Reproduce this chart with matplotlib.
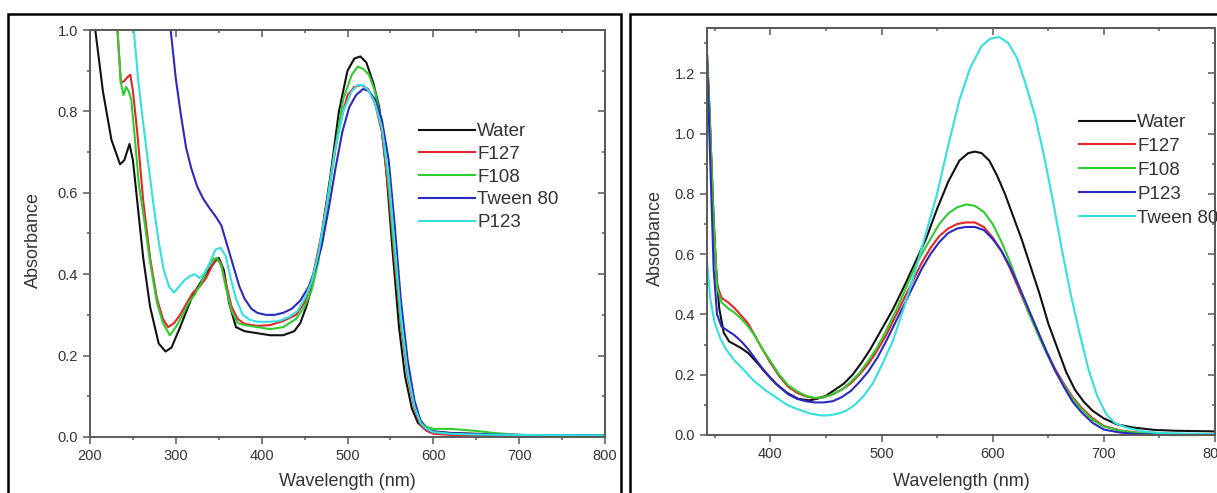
import matplotlib
matplotlib.use("Agg")
import matplotlib.pyplot as plt
from matplotlib.patches import Rectangle
from matplotlib.ticker import MultipleLocator

plt.rcParams['font.family'] = ['Liberation Sans', 'DejaVu Sans']

# ---------------- Left panel data ----------------
L_water_wl = [200, 205, 215, 225, 235, 240, 246, 250, 255, 262, 270, 280, 288, 295, 305, 320, 335, 345, 350,
              356, 362, 370, 380, 395, 410, 425, 438, 445, 452, 460, 470, 480, 490, 500, 508, 515, 522, 530,
              537, 545, 552, 560, 567, 575, 582, 590, 600, 620, 650, 700, 750, 800]
L_water_a = [1.15, 1.02, 0.85, 0.73, 0.67, 0.68, 0.72, 0.68, 0.58, 0.44, 0.32, 0.23, 0.21, 0.22, 0.27, 0.35,
             0.40, 0.43, 0.44, 0.41, 0.33, 0.27, 0.26, 0.255, 0.25, 0.25, 0.26, 0.28, 0.32, 0.38, 0.50, 0.64,
             0.80, 0.90, 0.93, 0.935, 0.92, 0.87, 0.81, 0.66, 0.47, 0.27, 0.15, 0.07, 0.035, 0.02, 0.014,
             0.01, 0.008, 0.005, 0.004, 0.004]

L_f127_wl = [228, 232, 236, 240, 244, 247, 250, 255, 262, 270, 278, 285, 291, 298, 305, 313, 320, 328, 335,
             342, 347, 352, 358, 365, 372, 380, 395, 410, 425, 440, 450, 460, 470, 480, 490, 500, 508, 516,
             524, 532, 540, 548, 555, 562, 570, 578, 585, 592, 600, 620, 650, 700, 800]
L_f127_a = [1.2, 1.0, 0.87, 0.875, 0.885, 0.89, 0.85, 0.75, 0.58, 0.44, 0.34, 0.29, 0.27, 0.28, 0.30, 0.33,
            0.355, 0.37, 0.39, 0.42, 0.437, 0.43, 0.38, 0.32, 0.29, 0.278, 0.273, 0.275, 0.285, 0.30, 0.33,
            0.40, 0.50, 0.63, 0.76, 0.84, 0.86, 0.865, 0.855, 0.82, 0.75, 0.60, 0.43, 0.28, 0.15, 0.07,
            0.03, 0.015, 0.008, 0.005, 0.005, 0.004, 0.004]

L_f108_wl = [228, 232, 236, 239, 242, 245, 248, 252, 257, 262, 270, 278, 285, 293, 300, 308, 315, 322, 330,
             338, 344, 348, 353, 358, 365, 372, 380, 395, 410, 425, 440, 450, 458, 466, 475, 485, 495, 505,
             512, 518, 525, 532, 540, 548, 555, 562, 570, 578, 585, 592, 600, 620, 650, 670, 700, 800]
L_f108_a = [1.2, 1.0, 0.87, 0.84, 0.86, 0.85, 0.83, 0.74, 0.62, 0.55, 0.43, 0.33, 0.28, 0.25, 0.27, 0.30,
            0.33, 0.35, 0.38, 0.42, 0.437, 0.44, 0.42, 0.37, 0.31, 0.28, 0.275, 0.27, 0.265, 0.27, 0.29,
            0.32, 0.36, 0.43, 0.55, 0.70, 0.83, 0.89, 0.91, 0.905, 0.89, 0.85, 0.77, 0.62, 0.45, 0.29,
            0.16, 0.08, 0.04, 0.025, 0.02, 0.02, 0.015, 0.01, 0.005, 0.004]

L_tween_wl = [288, 294, 300, 306, 312, 318, 325, 332, 340, 347, 353, 360, 367, 374, 380, 388, 395, 405, 415,
              425, 435, 445, 455, 462, 470, 478, 486, 494, 502, 510, 518, 525, 532, 540, 548, 555, 562, 570,
              578, 585, 592, 600, 620, 650, 700, 800]
L_tween_a = [1.2, 1.0, 0.88, 0.79, 0.71, 0.66, 0.615, 0.585, 0.56, 0.54, 0.52, 0.47, 0.42, 0.37, 0.34, 0.315,
             0.305, 0.30, 0.30, 0.305, 0.315, 0.335, 0.37, 0.41, 0.47, 0.56, 0.66, 0.75, 0.81, 0.84, 0.855,
             0.85, 0.83, 0.78, 0.68, 0.52, 0.34, 0.19, 0.09, 0.04, 0.02, 0.013, 0.009, 0.007, 0.005, 0.004]

L_p123_wl = [245, 251, 256, 262, 268, 274, 280, 286, 292, 298, 304, 310, 316, 322, 328, 334, 340, 346, 352,
             358, 364, 370, 378, 386, 395, 408, 420, 432, 442, 450, 458, 466, 475, 485, 495, 505, 512, 518,
             525, 532, 540, 548, 555, 562, 570, 578, 585, 592, 600, 620, 650, 700, 800]
L_p123_a = [1.2, 1.0, 0.88, 0.77, 0.67, 0.57, 0.48, 0.41, 0.37, 0.355, 0.37, 0.385, 0.395, 0.40, 0.39, 0.405,
            0.43, 0.46, 0.465, 0.445, 0.39, 0.34, 0.30, 0.288, 0.283, 0.283, 0.285, 0.295, 0.31, 0.34, 0.38,
            0.45, 0.56, 0.70, 0.80, 0.85, 0.865, 0.865, 0.85, 0.82, 0.76, 0.64, 0.47, 0.30, 0.16, 0.075,
            0.035, 0.02, 0.012, 0.008, 0.006, 0.005, 0.004]

# ---------------- Right panel data ----------------
R_water_wl = [342, 345, 348, 351, 354, 358, 363, 368, 373, 380, 388, 396, 405, 415, 425, 435, 442, 450, 458,
              466, 474, 482, 490, 500, 510, 520, 530, 540, 550, 560, 570, 578, 584, 590, 597, 604, 611, 618,
              626, 634, 642, 650, 658, 666, 674, 682, 690, 700, 712, 726, 745, 765, 800]
R_water_a = [1.35, 1.1, 0.8, 0.56, 0.42, 0.34, 0.31, 0.30, 0.29, 0.272, 0.24, 0.205, 0.17, 0.14, 0.12, 0.115,
             0.12, 0.13, 0.15, 0.17, 0.2, 0.24, 0.285, 0.35, 0.415, 0.49, 0.57, 0.65, 0.75, 0.84, 0.91, 0.935,
             0.94, 0.935, 0.91, 0.86, 0.80, 0.73, 0.65, 0.56, 0.47, 0.37, 0.29, 0.21, 0.15, 0.11, 0.08, 0.055,
             0.035, 0.025, 0.017, 0.014, 0.012]

R_tween_wl = [342, 346, 350, 355, 360, 367, 375, 385, 395, 405, 415, 425, 435, 445, 452, 460, 468, 476, 484,
              492, 500, 510, 520, 530, 540, 550, 560, 570, 580, 590, 598, 606, 614, 622, 630, 638, 646, 654,
              662, 670, 678, 686, 694, 702, 710, 720, 735, 750, 770, 800]
R_tween_a = [0.62, 0.45, 0.37, 0.32, 0.285, 0.25, 0.22, 0.18, 0.15, 0.125, 0.1, 0.085, 0.072, 0.065, 0.065,
             0.07, 0.08, 0.1, 0.13, 0.17, 0.23, 0.31, 0.42, 0.54, 0.67, 0.80, 0.96, 1.11, 1.22, 1.29, 1.315,
             1.32, 1.3, 1.25, 1.16, 1.06, 0.93, 0.78, 0.62, 0.47, 0.34, 0.22, 0.13, 0.07, 0.04, 0.025, 0.012,
             0.007, 0.005, 0.003]

R_wl = [342, 346, 349, 352, 356, 362, 368, 374, 380, 386, 392, 400, 408, 416, 424, 432, 440, 448, 456, 464,
        472, 480, 488, 496, 504, 512, 520, 528, 536, 544, 552, 560, 568, 576, 584, 592, 600, 608, 616, 624,
        632, 640, 648, 656, 664, 672, 680, 690, 700, 715, 730, 750, 800]
R_f127_a = [1.35, 1.0, 0.7, 0.5, 0.455, 0.44, 0.42, 0.395, 0.37, 0.33, 0.29, 0.24, 0.195, 0.16, 0.14, 0.128,
            0.122, 0.125, 0.135, 0.15, 0.17, 0.2, 0.235, 0.28, 0.33, 0.39, 0.45, 0.51, 0.57, 0.62, 0.66,
            0.685, 0.70, 0.705, 0.705, 0.69, 0.655, 0.61, 0.55, 0.48, 0.41, 0.345, 0.28, 0.22, 0.17, 0.125,
            0.09, 0.055, 0.03, 0.015, 0.008, 0.004, 0.002]
R_f108_a = [1.35, 1.0, 0.7, 0.49, 0.44, 0.42, 0.405, 0.385, 0.36, 0.33, 0.29, 0.245, 0.2, 0.165, 0.145, 0.13,
            0.123, 0.125, 0.135, 0.15, 0.175, 0.205, 0.245, 0.29, 0.345, 0.405, 0.47, 0.54, 0.6, 0.65, 0.7,
            0.735, 0.755, 0.765, 0.76, 0.74, 0.7, 0.64, 0.57, 0.49, 0.41, 0.34, 0.275, 0.215, 0.165, 0.12,
            0.085, 0.05, 0.028, 0.014, 0.007, 0.003, 0.001]
R_p123_a = [1.35, 0.9, 0.55, 0.4, 0.36, 0.345, 0.33, 0.31, 0.285, 0.255, 0.225, 0.19, 0.16, 0.135, 0.12,
            0.112, 0.108, 0.108, 0.112, 0.125, 0.145, 0.175, 0.21, 0.255, 0.31, 0.37, 0.43, 0.49, 0.55, 0.6,
            0.64, 0.67, 0.685, 0.69, 0.69, 0.68, 0.65, 0.61, 0.555, 0.49, 0.42, 0.35, 0.28, 0.215, 0.16,
            0.11, 0.075, 0.04, 0.018, 0.008, 0.003, 0.001, 0.0]

left_series = [("Water", L_water_wl, L_water_a, "#111111"),
               ("F127", L_f127_wl, L_f127_a, "#e3262b"),
               ("F108", L_f108_wl, L_f108_a, "#2ecc2e"),
               ("Tween 80", L_tween_wl, L_tween_a, "#2a2ac0"),
               ("P123", L_p123_wl, L_p123_a, "#33e0e0")]
right_series = [("Water", R_water_wl, R_water_a, "#111111"),
                ("F127", R_wl, R_f127_a, "#e3262b"),
                ("F108", R_wl, R_f108_a, "#2ecc2e"),
                ("P123", R_wl, R_p123_a, "#2a2ac0"),
                ("Tween 80", R_tween_wl, R_tween_a, "#33e0e0")]

W, H = 1217, 493
fig = plt.figure(figsize=(W / 100, H / 100), dpi=100)

# outer frames
fig.patches.append(Rectangle((8 / W, -0.05), (621 - 8) / W, 1 - 14 / H + 0.05, transform=fig.transFigure,
                             fill=False, edgecolor="black", linewidth=1.8))
fig.patches.append(Rectangle((630 / W, -0.05), 0.5, 1 - 14 / H + 0.05, transform=fig.transFigure,
                             fill=False, edgecolor="black", linewidth=1.8))

spine_c = "#5a5a5a"
txt_c = "#333333"


def px_axes(x0, x1, ytop, ybot):
    return fig.add_axes([x0 / W, 1 - ybot / H, (x1 - x0) / W, (ybot - ytop) / H])


def style(ax, xlim, ylim, ymaj, yticks):
    ax.set_xlim(*xlim)
    ax.set_ylim(*ylim)
    ax.xaxis.set_major_locator(MultipleLocator(100))
    ax.xaxis.set_minor_locator(MultipleLocator(50))
    ax.set_yticks(yticks)
    ax.yaxis.set_minor_locator(MultipleLocator(ymaj / 2))
    for s in ax.spines.values():
        s.set_color(spine_c)
        s.set_linewidth(1.4)
    ax.tick_params(which="both", direction="out", color=spine_c, labelcolor=txt_c, labelsize=10.5, width=1.1)
    ax.tick_params(which="major", length=5)
    ax.tick_params(which="minor", length=2.5)
    top = ax.secondary_xaxis("top")
    top.xaxis.set_major_locator(MultipleLocator(100))
    top.xaxis.set_minor_locator(MultipleLocator(50))
    top.tick_params(which="both", direction="in", labeltop=False, color=spine_c, width=1.1)
    top.tick_params(which="major", length=5)
    top.tick_params(which="minor", length=2.5)
    top.spines["top"].set_color(spine_c)
    top.spines["top"].set_linewidth(1.4)
    right = ax.secondary_yaxis("right")
    right.set_yticks(yticks)
    right.yaxis.set_minor_locator(MultipleLocator(ymaj / 2))
    right.tick_params(which="both", direction="in", labelright=False, color=spine_c, width=1.1)
    right.tick_params(which="major", length=5)
    right.tick_params(which="minor", length=2.5)
    right.spines["right"].set_color(spine_c)
    right.spines["right"].set_linewidth(1.4)


leg_kw = dict(loc="upper left", bbox_transform=fig.transFigure, frameon=False, fontsize=13.5,
              handlelength=3.0, handletextpad=0.1, borderpad=0, borderaxespad=0, labelcolor=txt_c)

# Left panel
ax1 = px_axes(90, 605, 30, 437)
for name, x, y, c in left_series:
    ax1.plot(x, y, color=c, lw=1.5, label=name)
style(ax1, (200, 800), (0, 1.0), 0.2, [0.0, 0.2, 0.4, 0.6, 0.8, 1.0])
ax1.set_yticklabels(["0.0", "0.2", "0.4", "0.6", "0.8", "1.0"])
fig.text(347 / W, 1 - 482 / H, "Wavelength (nm)", ha="center", va="center", fontsize=13, color=txt_c)
fig.text(33 / W, 1 - 240 / H, "Absorbance", ha="center", va="center", rotation=90, fontsize=13, color=txt_c)
ax1.legend(bbox_to_anchor=(419 / W, 1 - 123 / H), labelspacing=0.3, **leg_kw)

# Right panel
ax2 = px_axes(707, 1215, 28, 435)
for name, x, y, c in right_series:
    ax2.plot(x, y, color=c, lw=1.5, label=name)
style(ax2, (343, 800), (0, 1.35), 0.2, [0.0, 0.2, 0.4, 0.6, 0.8, 1.0, 1.2])
ax2.set_yticklabels(["0.0", "0.2", "0.4", "0.6", "0.8", "1.0", "1.2"])
fig.text(961 / W, 1 - 482 / H, "Wavelength (nm)", ha="center", va="center", fontsize=13, color=txt_c)
fig.text(655 / W, 1 - 238 / H, "Absorbance", ha="center", va="center", rotation=90, fontsize=13, color=txt_c)
ax2.legend(bbox_to_anchor=(1079 / W, 1 - 114 / H), labelspacing=0.36, **leg_kw)

fig.savefig("out.png", dpi=100)
